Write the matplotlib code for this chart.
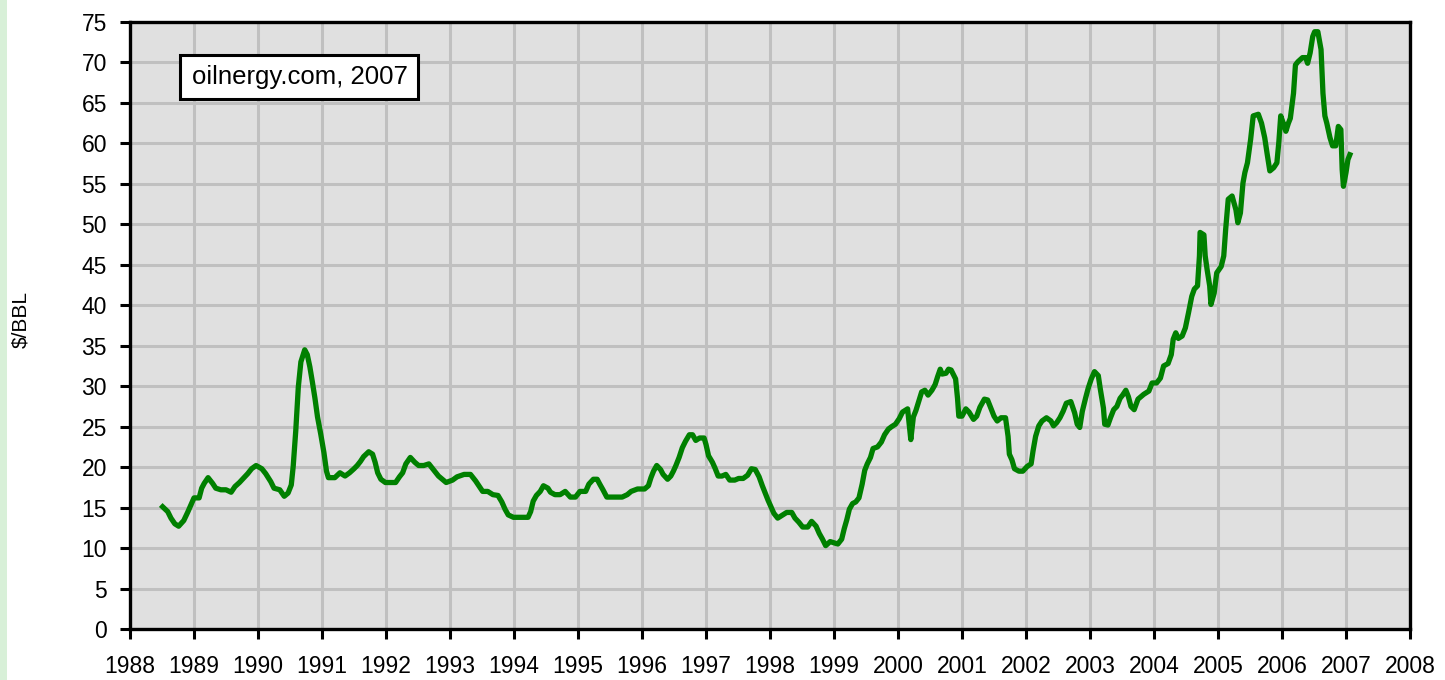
import matplotlib
matplotlib.use("Agg")
import matplotlib.pyplot as plt
from matplotlib.patches import Rectangle

plt.rcParams['font.family'] = ['Liberation Sans', 'DejaVu Sans']

# oil price, $/BBL (fractional year, price)
years = [1988.51, 1988.59, 1988.64, 1988.70, 1988.76, 1988.84, 1988.90, 1988.95,
         1989.00, 1989.08, 1989.12, 1989.16, 1989.22, 1989.29, 1989.34, 1989.42,
         1989.50, 1989.58, 1989.64, 1989.71, 1989.77, 1989.84, 1989.90, 1989.97,
         1990.06, 1990.12, 1990.20, 1990.25, 1990.34, 1990.41, 1990.47, 1990.52,
         1990.55, 1990.59, 1990.63, 1990.67, 1990.73, 1990.77, 1990.81, 1990.85,
         1990.89, 1990.93, 1990.98, 1991.03, 1991.07, 1991.10, 1991.20, 1991.28,
         1991.36, 1991.43, 1991.50, 1991.55, 1991.60, 1991.65, 1991.73, 1991.79,
         1991.83, 1991.87, 1991.92, 1991.99, 1992.07, 1992.15, 1992.21, 1992.26,
         1992.31, 1992.38, 1992.45, 1992.51, 1992.59, 1992.67, 1992.75, 1992.82,
         1992.88, 1992.94, 1993.04, 1993.11, 1993.22, 1993.32, 1993.40, 1993.45,
         1993.51, 1993.59, 1993.67, 1993.75, 1993.81, 1993.86, 1993.91, 1993.99,
         1994.07, 1994.14, 1994.22, 1994.26, 1994.30, 1994.35, 1994.41, 1994.46,
         1994.53, 1994.57, 1994.64, 1994.72, 1994.80, 1994.88, 1994.96, 1995.03,
         1995.12, 1995.17, 1995.24, 1995.30, 1995.34, 1995.39, 1995.45, 1995.53,
         1995.61, 1995.69, 1995.77, 1995.83, 1995.93, 1996.04, 1996.10, 1996.14,
         1996.18, 1996.23, 1996.29, 1996.33, 1996.40, 1996.45, 1996.49, 1996.53,
         1996.58, 1996.63, 1996.68, 1996.74, 1996.79, 1996.84, 1996.90, 1996.97,
         1997.00, 1997.04, 1997.10, 1997.14, 1997.19, 1997.25, 1997.31, 1997.37,
         1997.45, 1997.51, 1997.58, 1997.65, 1997.71, 1997.77, 1997.83, 1997.88,
         1997.93, 1997.97, 1998.02, 1998.06, 1998.12, 1998.18, 1998.26, 1998.34,
         1998.39, 1998.45, 1998.51, 1998.59, 1998.65, 1998.72, 1998.77, 1998.82,
         1998.87, 1998.94, 1999.06, 1999.12, 1999.16, 1999.20, 1999.24, 1999.29,
         1999.34, 1999.39, 1999.44, 1999.48, 1999.52, 1999.57, 1999.61, 1999.68,
         1999.74, 1999.79, 1999.85, 1999.90, 1999.96, 2000.02, 2000.07, 2000.15,
         2000.20, 2000.24, 2000.28, 2000.33, 2000.37, 2000.42, 2000.47, 2000.53,
         2000.58, 2000.62, 2000.66, 2000.69, 2000.75, 2000.79, 2000.83, 2000.90,
         2000.93, 2000.95, 2001.00, 2001.06, 2001.11, 2001.18, 2001.23, 2001.28,
         2001.35, 2001.40, 2001.45, 2001.50, 2001.55, 2001.61, 2001.68, 2001.72,
         2001.74, 2001.78, 2001.82, 2001.89, 2001.95, 2002.02, 2002.08, 2002.11,
         2002.15, 2002.20, 2002.25, 2002.32, 2002.39, 2002.43, 2002.48, 2002.53,
         2002.58, 2002.63, 2002.70, 2002.76, 2002.80, 2002.84, 2002.88, 2002.93,
         2002.97, 2003.02, 2003.07, 2003.13, 2003.16, 2003.21, 2003.23, 2003.28,
         2003.32, 2003.37, 2003.42, 2003.47, 2003.51, 2003.56, 2003.60, 2003.64,
         2003.69, 2003.75, 2003.84, 2003.92, 2003.97, 2004.04, 2004.10, 2004.15,
         2004.22, 2004.27, 2004.30, 2004.34, 2004.38, 2004.44, 2004.49, 2004.54,
         2004.59, 2004.63, 2004.68, 2004.71, 2004.72, 2004.78, 2004.80, 2004.83,
         2004.87, 2004.89, 2004.94, 2004.98, 2005.05, 2005.09, 2005.12, 2005.16,
         2005.22, 2005.28, 2005.31, 2005.35, 2005.39, 2005.42, 2005.46, 2005.51,
         2005.55, 2005.63, 2005.68, 2005.73, 2005.77, 2005.81, 2005.87, 2005.92,
         2005.95, 2005.98, 2006.02, 2006.06, 2006.10, 2006.13, 2006.18, 2006.21,
         2006.25, 2006.32, 2006.37, 2006.40, 2006.44, 2006.48, 2006.51, 2006.56,
         2006.61, 2006.64, 2006.67, 2006.70, 2006.75, 2006.79, 2006.84, 2006.88,
         2006.92, 2006.94, 2006.96, 2007.00, 2007.03, 2007.06]

price = [15.1, 14.5, 13.7, 13.0, 12.7, 13.4, 14.4, 15.3,
         16.2, 16.2, 17.4, 18.0, 18.7, 18.0, 17.4, 17.2,
         17.2, 16.9, 17.6, 18.1, 18.6, 19.2, 19.8, 20.2,
         19.8, 19.2, 18.2, 17.4, 17.2, 16.4, 16.8, 17.8,
         20.1, 24.5, 29.9, 33.0, 34.5, 33.9, 32.4, 30.5,
         28.5, 26.2, 24.1, 21.8, 19.5, 18.7, 18.7, 19.3,
         18.9, 19.3, 19.8, 20.2, 20.7, 21.3, 21.9, 21.6,
         20.6, 19.3, 18.5, 18.1, 18.1, 18.1, 18.8, 19.3,
         20.4, 21.2, 20.6, 20.2, 20.2, 20.4, 19.6, 18.9,
         18.5, 18.1, 18.4, 18.8, 19.1, 19.1, 18.3, 17.7,
         17.0, 17.0, 16.6, 16.5, 15.7, 14.8, 14.1, 13.8,
         13.8, 13.8, 13.8, 14.5, 15.8, 16.5, 17.0, 17.7,
         17.4, 16.9, 16.6, 16.6, 17.0, 16.3, 16.3, 17.0,
         17.0, 17.9, 18.5, 18.5, 17.9, 17.2, 16.3, 16.3,
         16.3, 16.3, 16.6, 17.0, 17.3, 17.3, 17.7, 18.7,
         19.5, 20.2, 19.7, 19.1, 18.5, 18.9, 19.5, 20.2,
         21.2, 22.4, 23.2, 24.0, 24.0, 23.3, 23.6, 23.6,
         22.8, 21.4, 20.6, 19.9, 18.9, 18.9, 19.1, 18.4,
         18.4, 18.6, 18.6, 19.0, 19.8, 19.7, 18.8, 17.7,
         16.7, 15.9, 15.0, 14.3, 13.7, 14.0, 14.4, 14.4,
         13.7, 13.2, 12.6, 12.6, 13.3, 12.7, 11.8, 11.1,
         10.3, 10.8, 10.5, 11.1, 12.4, 13.5, 14.8, 15.5,
         15.7, 16.2, 17.9, 19.6, 20.4, 21.2, 22.3, 22.5,
         23.1, 24.0, 24.7, 25.0, 25.3, 26.0, 26.8, 27.2,
         23.4, 26.2, 27.0, 28.3, 29.3, 29.5, 28.9, 29.5,
         30.2, 31.2, 32.1, 31.5, 31.6, 32.1, 32.0, 30.9,
         28.5, 26.3, 26.3, 27.2, 26.8, 25.9, 26.3, 27.4,
         28.4, 28.3, 27.3, 26.3, 25.7, 26.1, 26.1, 23.8,
         21.6, 20.9, 19.8, 19.5, 19.5, 20.1, 20.4, 22.0,
         23.8, 25.1, 25.7, 26.1, 25.7, 25.1, 25.5, 26.1,
         26.9, 27.9, 28.1, 26.7, 25.3, 24.9, 26.9, 28.5,
         29.7, 30.9, 31.8, 31.3, 29.7, 27.3, 25.3, 25.2,
         26.1, 27.1, 27.5, 28.5, 28.9, 29.5, 28.7, 27.5,
         27.1, 28.4, 29.0, 29.4, 30.4, 30.4, 31.0, 32.5,
         32.8, 33.9, 35.8, 36.6, 35.9, 36.2, 37.2, 39.1,
         41.1, 42.0, 42.4, 46.1, 49.0, 48.7, 46.1, 44.4,
         42.4, 40.1, 41.5, 44.0, 44.8, 46.1, 49.4, 53.1,
         53.5, 51.8, 50.2, 51.4, 55.1, 56.4, 57.6, 60.5,
         63.4, 63.6, 62.5, 60.7, 58.6, 56.6, 57.0, 57.6,
         60.1, 63.4, 62.5, 61.5, 62.5, 63.1, 66.2, 69.7,
         70.1, 70.6, 70.6, 69.9, 71.2, 73.2, 73.8, 73.8,
         71.6, 66.2, 63.4, 62.5, 60.7, 59.7, 59.7, 62.1,
         61.7, 56.8, 54.7, 56.4, 58.0, 58.6]

year_ticks = list(range(1988, 2009))
price_ticks = list(range(0, 80, 5))

fig = plt.figure(figsize=(14.45, 6.8), dpi=100)
W, H = 1445.0, 680.0

# light green strip down the left edge
fig.patches.append(Rectangle((0, 0), 7 / W, 1, transform=fig.transFigure,
                             facecolor="#d8f0d8", edgecolor="none", zorder=0))

ax = fig.add_axes([130 / W, 51 / H, 1280 / W, 607 / H])
ax.set_facecolor("#e0e0e0")
ax.plot(years, price, color="#008000", linewidth=3.8, zorder=3)

ax.set_xlim(1988, 2008)
ax.set_ylim(0, 75)
ax.set_xticks(year_ticks)
ax.set_xticklabels([str(y) for y in year_ticks])
ax.set_yticks(price_ticks)
ax.grid(True, color="#c0c0c0", linewidth=2.2, zorder=1)
ax.set_axisbelow(True)

for s in ax.spines.values():
    s.set_color("black")
    s.set_linewidth(2.4)

ax.tick_params(axis="both", direction="out", length=7.5, width=2.2,
               colors="black", labelsize=16.5)
ax.tick_params(axis="x", pad=11)
ax.tick_params(axis="y", pad=9)

fig.text(21 / W, 1 - 320 / H, "$/BBL", rotation=90, ha="center", va="center",
         fontsize=15, color="black")

# source box
fig.patches.append(Rectangle((180 / W, 1 - 99 / H), 238 / W, 44 / H,
                             transform=fig.transFigure, facecolor="white",
                             edgecolor="black", linewidth=2.2, zorder=5))
fig.text(300 / W, 1 - 77 / H, "oilnergy.com, 2007", ha="center", va="center",
         fontsize=18.5, color="black", zorder=6)

fig.savefig("out.png", dpi=100)
